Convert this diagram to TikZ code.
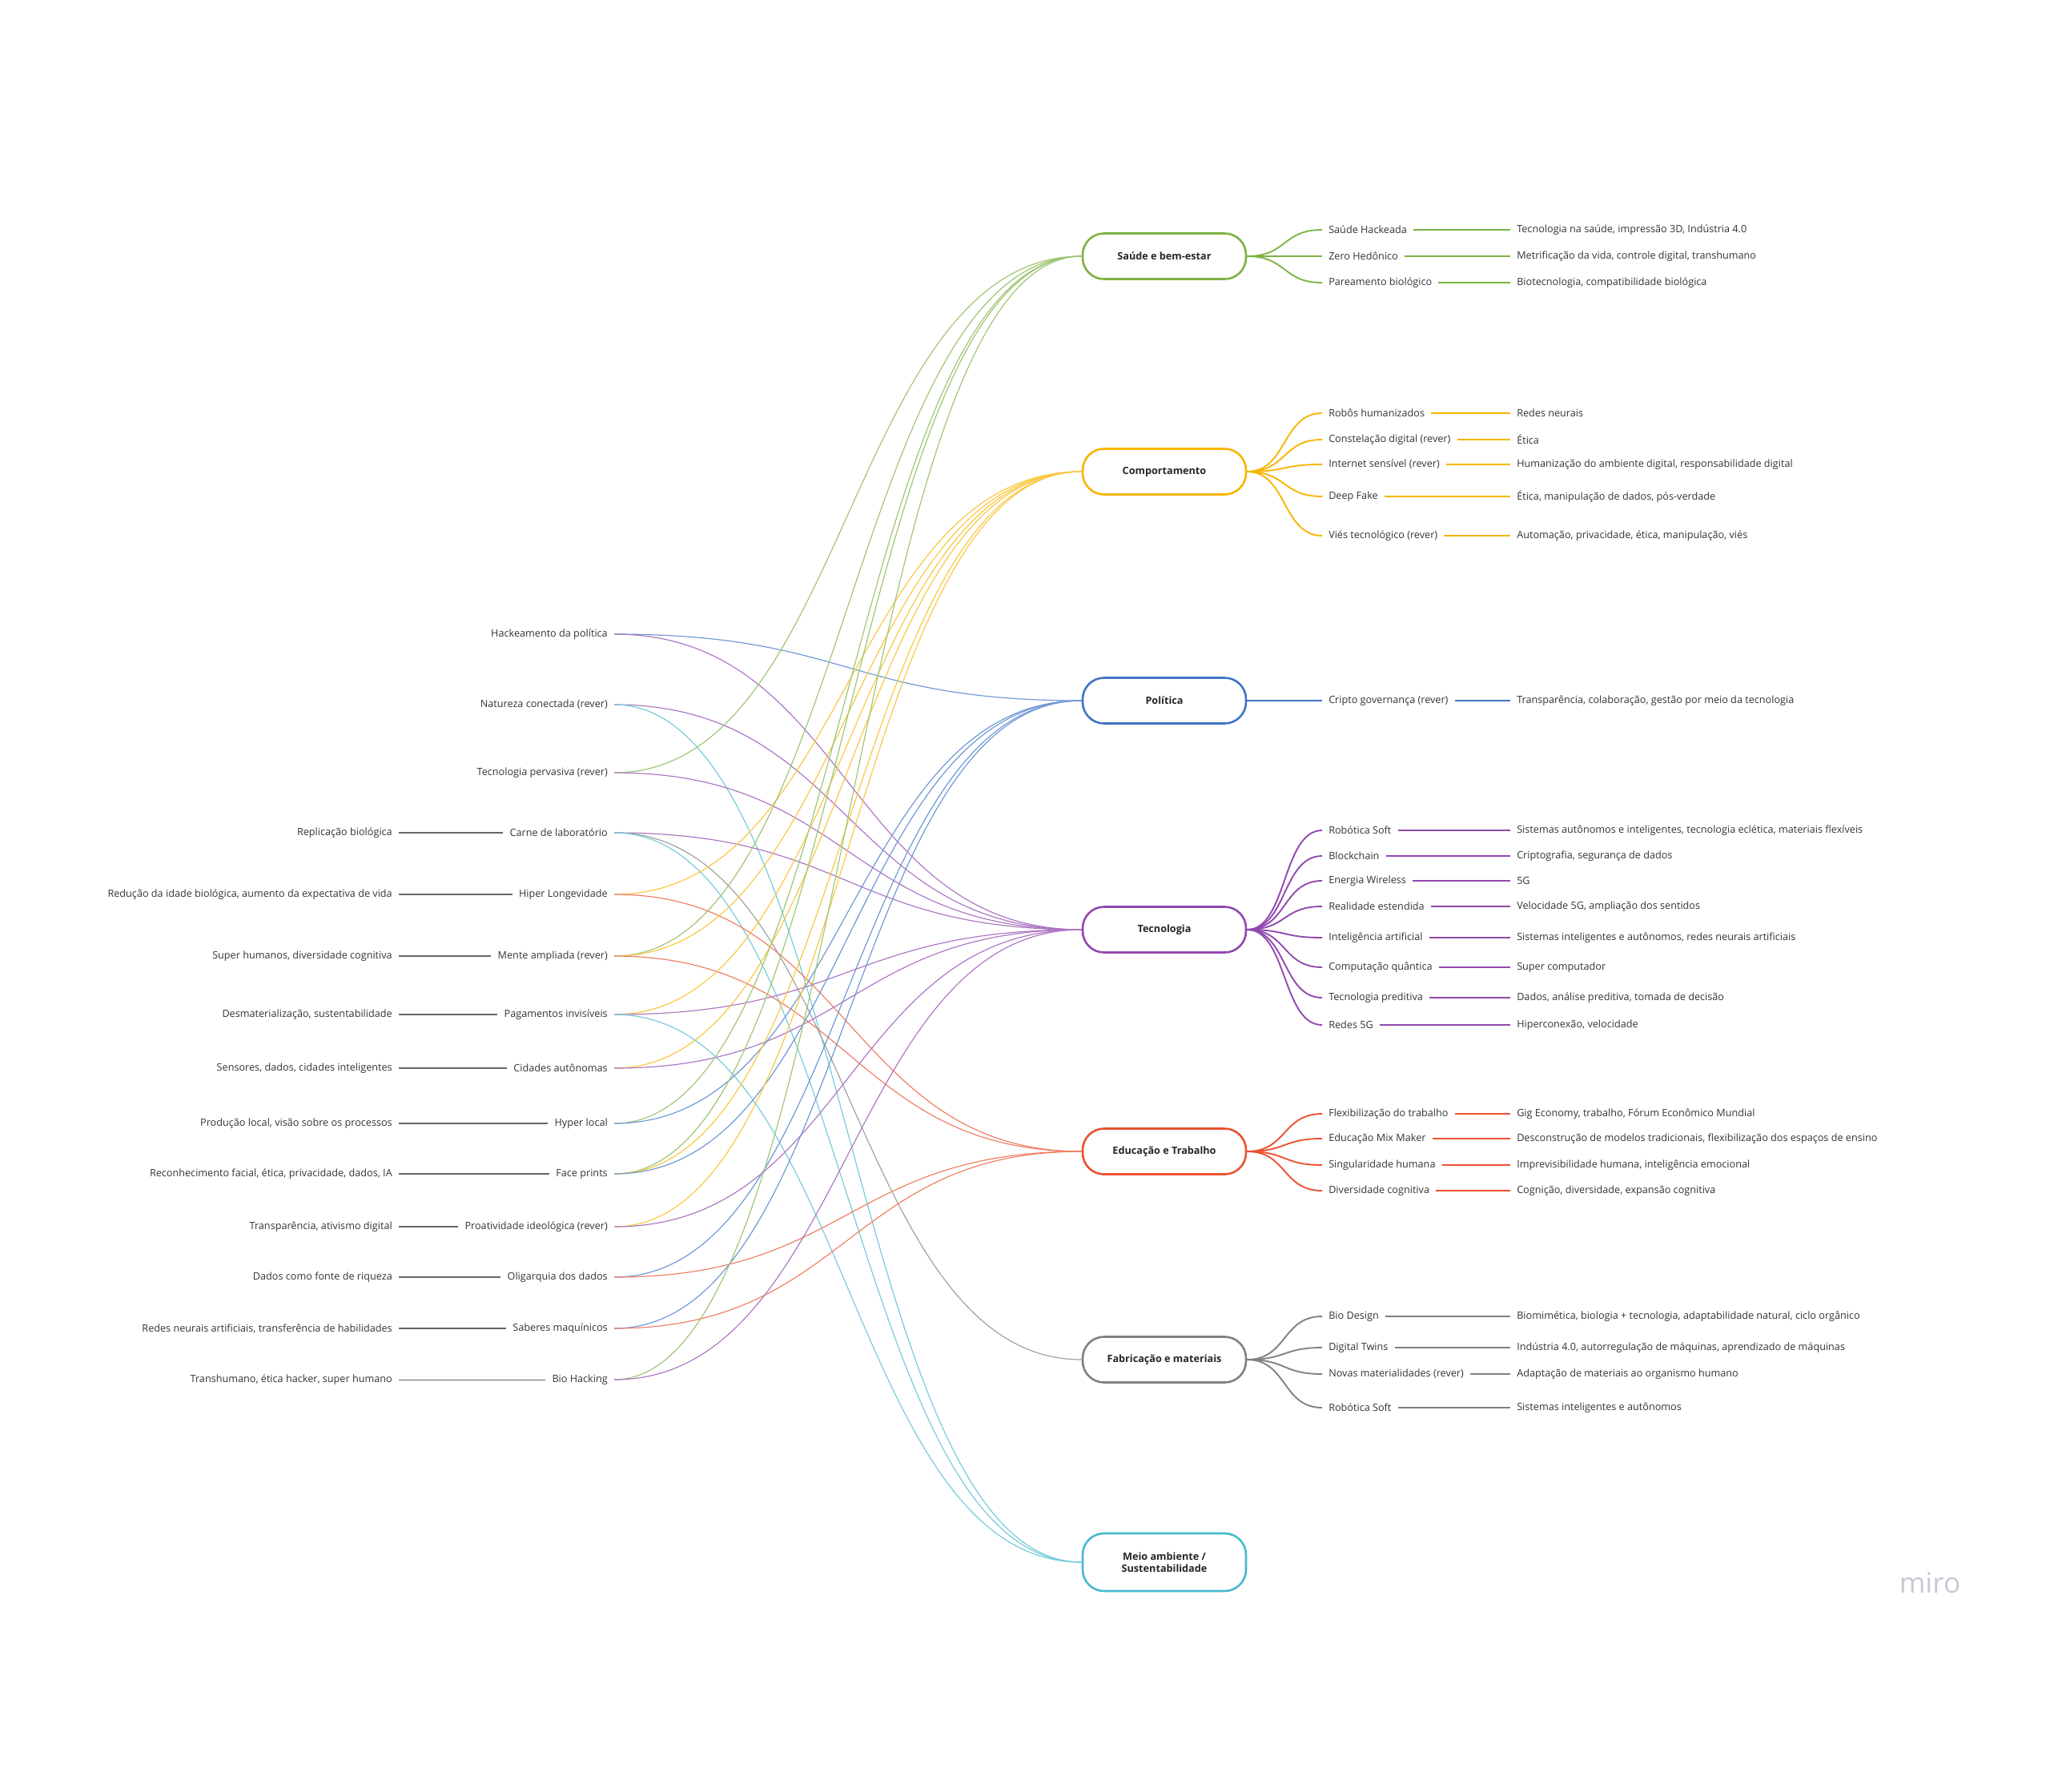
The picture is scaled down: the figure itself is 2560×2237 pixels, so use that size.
\documentclass[tikz,border=0pt]{standalone}
\usepackage{fontspec}
\setmainfont{Open Sans}
\definecolor{cgreen}{HTML}{7CB342}
\definecolor{cyellow}{HTML}{F7B500}
\definecolor{cblue}{HTML}{3E74C8}
\definecolor{cpurple}{HTML}{9148AE}
\definecolor{cred}{HTML}{EA5330}
\definecolor{cgray}{HTML}{808080}
\definecolor{ccyan}{HTML}{45B9CD}
\definecolor{mirogray}{HTML}{C6C9D4}

\begin{document}
\begin{tikzpicture}[x=0.3mm, y=-0.3mm, font=\fontsize{10.8}{13}\selectfont,
    hub/.style={draw=#1, line width=2.2pt, rounded corners=8mm, fill=white,
        minimum width=61.2mm, minimum height=17.1mm, align=center,
        font=\fontsize{10.8}{13}\selectfont\bfseries, text=black!85},
    leaf/.style={inner xsep=2.4mm, inner ysep=1mm, text=black!80},
    branch/.style={draw=#1, line width=1.6pt},
    link/.style={draw=#1!75, line width=1pt},
    tie/.style={draw=black!60, line width=0.9pt}]
    \useasboundingbox (0,0) rectangle (2560,2237);

    % hubs
    \node[hub=cgreen] (saude) at (1454,320) {Saúde e bem-estar};
    \node[hub=cyellow] (comp) at (1454,589) {Comportamento};
    \node[hub=cblue] (politica) at (1454,875) {Política};
    \node[hub=cpurple] (tecno) at (1454,1161) {Tecnologia};
    \node[hub=cred] (edu) at (1454,1438) {Educação e Trabalho};
    \node[hub=cgray] (fab) at (1454,1698) {Fabricação e materiais};
    \node[hub=ccyan, minimum height=21.6mm] (meio) at (1454,1951) {Meio ambiente /\\Sustentabilidade};

    % right branches
    \foreach \i/\y/\nm/\ds in {1/287/Saúde Hackeada/{Tecnologia na saúde, impressão 3D, Indústria 4.0},
        2/320/Zero Hedônico/{Metrificação da vida, controle digital, transhumano},
        3/353/Pareamento biológico/{Biotecnologia, compatibilidade biológica}} {
        \node[leaf, anchor=west] (sa\i) at (1651,\y) {\nm};
        \node[leaf, anchor=west] (sb\i) at (1886,\y) {\ds};
        \draw[branch=cgreen] (saude.east) .. controls +(50,0) and +(-50,0) .. (sa\i.west);
        \draw[branch=cgreen] (sa\i.east) -- (sb\i.west);
    }
    \foreach \i/\y/\nm/\ds in {1/516/Robôs humanizados/Redes neurais,
        2/549/Constelação digital (rever)/Ética,
        3/580/Internet sensível (rever)/{Humanização do ambiente digital, responsabilidade digital},
        4/620/Deep Fake/{Ética, manipulação de dados, pós-verdade},
        5/669/Viés tecnológico (rever)/{Automação, privacidade, ética, manipulação, viés}} {
        \node[leaf, anchor=west] (ca\i) at (1651,\y) {\nm};
        \node[leaf, anchor=west] (cb\i) at (1886,\y) {\ds};
        \draw[branch=cyellow] (comp.east) .. controls +(50,0) and +(-50,0) .. (ca\i.west);
        \draw[branch=cyellow] (ca\i.east) -- (cb\i.west);
    }
    \node[leaf, anchor=west] (pa1) at (1651,875) {Cripto governança (rever)};
    \node[leaf, anchor=west] (pb1) at (1886,875) {Transparência, colaboração, gestão por meio da tecnologia};
    \draw[branch=cblue] (politica.east) -- (pa1.west);
    \draw[branch=cblue] (pa1.east) -- (pb1.west);
    \foreach \i/\y/\nm/\ds in {1/1037/Robótica Soft/{Sistemas autônomos e inteligentes, tecnologia eclética, materiais flexíveis},
        2/1069/Blockchain/{Criptografia, segurança de dados},
        3/1100/Energia Wireless/5G,
        4/1132/Realidade estendida/{Velocidade 5G, ampliação dos sentidos},
        5/1171/Inteligência artificial/{Sistemas inteligentes e autônomos, redes neurais artificiais},
        6/1208/Computação quântica/Super computador,
        7/1246/Tecnologia preditiva/{Dados, análise preditiva, tomada de decisão},
        8/1280/Redes 5G/{Hiperconexão, velocidade}} {
        \node[leaf, anchor=west] (ta\i) at (1651,\y) {\nm};
        \node[leaf, anchor=west] (tb\i) at (1886,\y) {\ds};
        \draw[branch=cpurple] (tecno.east) .. controls +(50,0) and +(-50,0) .. (ta\i.west);
        \draw[branch=cpurple] (ta\i.east) -- (tb\i.west);
    }
    \foreach \i/\y/\nm/\ds in {1/1391/Flexibilização do trabalho/{Gig Economy, trabalho, Fórum Econômico Mundial},
        2/1422/Educação Mix Maker/{Desconstrução de modelos tradicionais, flexibilização dos espaços de ensino},
        3/1455/Singularidade humana/{Imprevisibilidade humana, inteligência emocional},
        4/1487/Diversidade cognitiva/{Cognição, diversidade, expansão cognitiva}} {
        \node[leaf, anchor=west] (ea\i) at (1651,\y) {\nm};
        \node[leaf, anchor=west] (eb\i) at (1886,\y) {\ds};
        \draw[branch=cred] (edu.east) .. controls +(50,0) and +(-50,0) .. (ea\i.west);
        \draw[branch=cred] (ea\i.east) -- (eb\i.west);
    }
    \foreach \i/\y/\nm/\ds in {1/1644/Bio Design/{Biomimética, biologia + tecnologia, adaptabilidade natural, ciclo orgânico},
        2/1683/Digital Twins/{Indústria 4.0, autorregulação de máquinas, aprendizado de máquinas},
        3/1716/Novas materialidades (rever)/Adaptação de materiais ao organismo humano,
        4/1758/Robótica Soft/Sistemas inteligentes e autônomos} {
        \node[leaf, anchor=west] (fa\i) at (1651,\y) {\nm};
        \node[leaf, anchor=west] (fb\i) at (1886,\y) {\ds};
        \draw[branch=cgray] (fab.east) .. controls +(50,0) and +(-50,0) .. (fa\i.west);
        \draw[branch=cgray] (fa\i.east) -- (fb\i.west);
    }

    % left side
    \foreach \n/\y/\nm in {hack/792/Hackeamento da política, natu/880/Natureza conectada (rever),
        perv/965/Tecnologia pervasiva (rever), carne/1040/Carne de laboratório,
        hiper/1117/Hiper Longevidade, mente/1194/Mente ampliada (rever),
        pag/1267/Pagamentos invisíveis, cid/1334/Cidades autônomas, hyper/1403/Hyper local,
        face/1466/Face prints, proat/1532/Proatividade ideológica (rever),
        olig/1595/Oligarquia dos dados, saber/1659/Saberes maquínicos, bio/1723/Bio Hacking}
        \node[leaf, anchor=east] (\n) at (767,\y) {\nm};
    \foreach \n/\y/\ds in {carne/1040/Replicação biológica,
        hiper/1117/{Redução da idade biológica, aumento da expectativa de vida},
        mente/1194/{Super humanos, diversidade cognitiva},
        pag/1267/{Desmaterialização, sustentabilidade},
        cid/1334/{Sensores, dados, cidades inteligentes},
        hyper/1403/{Produção local, visão sobre os processos},
        face/1466/{Reconhecimento facial, ética, privacidade, dados, IA},
        proat/1532/{Transparência, ativismo digital},
        olig/1595/Dados como fonte de riqueza,
        saber/1659/{Redes neurais artificiais, transferência de habilidades},
        bio/1723/{Transhumano, ética hacker, super humano}} {
        \node[leaf, anchor=east] (\n-x) at (498,\y) {\ds};
        \draw[tie] (\n-x.east) -- (\n.west);
    }

    % cross links
    \foreach \n/\h/\c in {hack/politica/cblue, hack/tecno/cpurple, natu/tecno/cpurple, natu/meio/ccyan,
        perv/saude/cgreen, perv/tecno/cpurple, carne/tecno/cpurple, carne/fab/cgray, carne/meio/ccyan,
        hiper/comp/cyellow, hiper/edu/cred, mente/saude/cgreen, mente/comp/cyellow, mente/edu/cred,
        pag/comp/cyellow, pag/tecno/cpurple, pag/meio/ccyan, cid/comp/cyellow, cid/tecno/cpurple,
        hyper/saude/cgreen, hyper/politica/cblue, face/saude/cgreen, face/comp/cyellow, face/politica/cblue,
        proat/comp/cyellow, proat/tecno/cpurple, olig/politica/cblue, olig/edu/cred,
        saber/politica/cblue, saber/edu/cred, bio/saude/cgreen, bio/tecno/cpurple}
        \draw[link=\c] (\n.east) .. controls +(292,0) and +(-292,0) .. (\h.west);

    \node[font=\fontsize{30}{36}\selectfont, text=mirogray] (logo) at (2410,1977) {miro};
\end{tikzpicture}
\end{document}
